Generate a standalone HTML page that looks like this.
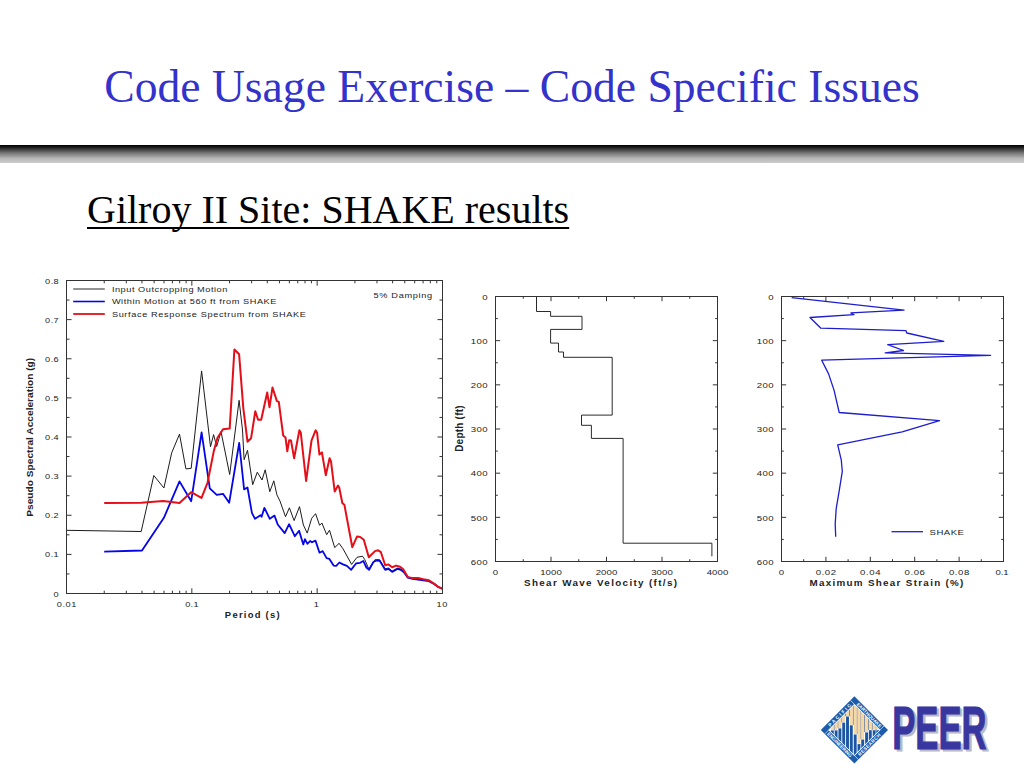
<!DOCTYPE html>
<html>
<head>
<meta charset="utf-8">
<title>Code Usage Exercise</title>
<style>
html,body{margin:0;padding:0;background:#fff;}
body{width:1024px;height:768px;position:relative;overflow:hidden;font-family:"Liberation Serif",serif;}
#title{position:absolute;left:0;top:60px;width:1024px;text-align:center;font-size:45.6px;line-height:54px;color:#3333cc;white-space:nowrap;}
#bar{position:absolute;left:0;top:145px;width:1024px;height:18px;background:linear-gradient(to bottom,#000 0%,#1a1a1a 12%,#777 45%,#b8b8b8 75%,#cccccc 100%);}
#sub{position:absolute;left:87px;top:187px;font-size:40px;line-height:46px;color:#000;white-space:nowrap;text-decoration:underline;text-decoration-thickness:2px;text-underline-offset:4px;text-decoration-skip-ink:none;}
#g{position:absolute;left:0;top:0;width:1024px;height:768px;}
#g text{font-family:"Liberation Sans",sans-serif;}
</style>
</head>
<body>
<div id="title">Code Usage Exercise – Code Specific Issues</div>
<div id="bar"></div>
<div id="sub">Gilroy II Site: SHAKE results</div>
<svg id="g" width="1024" height="768" viewBox="0 0 1024 768">
<!--CHART1-->
<g id="c1">
<path d="M104.23 593.5v-2.8M104.23 280.5v2.8M126.30 593.5v-2.8M126.30 280.5v2.8M141.96 593.5v-2.8M141.96 280.5v2.8M154.10 593.5v-2.8M154.10 280.5v2.8M164.03 593.5v-2.8M164.03 280.5v2.8M172.42 593.5v-2.8M172.42 280.5v2.8M179.69 593.5v-2.8M179.69 280.5v2.8M186.10 593.5v-2.8M186.10 280.5v2.8M191.83 593.5v-5.2M191.83 280.5v5.2M229.56 593.5v-2.8M229.56 280.5v2.8M251.63 593.5v-2.8M251.63 280.5v2.8M267.29 593.5v-2.8M267.29 280.5v2.8M279.44 593.5v-2.8M279.44 280.5v2.8M289.36 593.5v-2.8M289.36 280.5v2.8M297.75 593.5v-2.8M297.75 280.5v2.8M305.02 593.5v-2.8M305.02 280.5v2.8M311.43 593.5v-2.8M311.43 280.5v2.8M317.17 593.5v-5.2M317.17 280.5v5.2M354.90 593.5v-2.8M354.90 280.5v2.8M376.97 593.5v-2.8M376.97 280.5v2.8M392.62 593.5v-2.8M392.62 280.5v2.8M404.77 593.5v-2.8M404.77 280.5v2.8M414.69 593.5v-2.8M414.69 280.5v2.8M423.09 593.5v-2.8M423.09 280.5v2.8M430.35 593.5v-2.8M430.35 280.5v2.8M436.77 593.5v-2.8M436.77 280.5v2.8M66.5 573.94h3M442.5 573.94h-3M66.5 554.38h5M442.5 554.38h-5M66.5 534.81h3M442.5 534.81h-3M66.5 515.25h5M442.5 515.25h-5M66.5 495.69h3M442.5 495.69h-3M66.5 476.12h5M442.5 476.12h-5M66.5 456.56h3M442.5 456.56h-3M66.5 437.00h5M442.5 437.00h-5M66.5 417.44h3M442.5 417.44h-3M66.5 397.88h5M442.5 397.88h-5M66.5 378.31h3M442.5 378.31h-3M66.5 358.75h5M442.5 358.75h-5M66.5 339.19h3M442.5 339.19h-3M66.5 319.62h5M442.5 319.62h-5M66.5 300.06h3M442.5 300.06h-3" stroke="#333" stroke-width="1" fill="none"/>
<polyline points="66.2,530.3 141.2,531.5 153.8,475.5 163.9,488.0 171.7,452.8 179.5,434.1 185.9,468.9 191.2,468.3 201.6,370.9 210.5,446.8 213.6,434.6 216.7,446.5 221.0,431.6 229.7,474.5 239.1,400.3 242.5,430.0 244.1,459.7 247.5,450.3 252.7,484.7 257.3,472.2 262.0,480.0 265.2,469.8 269.8,491.7 273.8,480.8 276.9,494.8 280.0,501.1 285.5,516.7 289.4,507.8 294.1,520.6 299.5,506.6 303.4,525.0 307.2,533.1 311.7,518.3 315.6,513.7 319.6,525.3 321.9,523.0 326.7,534.7 329.5,530.2 334.7,547.6 339.1,543.3 343.0,548.8 351.6,564.4 357.0,557.3 362.5,556.2 364.8,559.7 368.8,569.0 375.0,559.7 379.7,559.7 385.2,569.0 388.3,568.0 392.2,571.0 397.7,568.0 400.8,569.0 403.9,571.5 407.8,577.3 412.5,578.4 423.4,579.7 428.9,580.8 434.4,583.9 438.3,587.0 442.2,588.6" fill="none" stroke="#1c1c1c" stroke-width="1" stroke-linejoin="round"/>
<polyline points="104.2,551.6 142.0,550.5 163.9,517.8 179.5,481.4 191.2,501.2 201.6,432.3 209.8,488.3 216.7,494.9 223.0,493.8 229.2,502.7 239.2,443.0 244.1,489.4 247.5,487.5 251.9,512.8 255.0,518.8 260.5,515.2 261.6,516.7 264.4,507.8 269.8,518.8 274.5,515.6 277.7,524.5 284.7,533.1 289.1,524.2 294.8,536.2 299.1,530.8 303.3,544.4 304.9,539.2 307.4,543.8 310.1,541.0 312.0,542.3 315.5,540.6 319.5,552.7 322.7,551.1 326.6,558.1 329.4,558.9 333.6,565.6 336.2,565.9 339.4,562.5 343.0,564.4 346.9,565.9 351.2,569.8 356.2,563.3 360.2,562.8 363.3,560.9 366.4,567.5 369.1,569.8 373.4,562.0 376.6,560.5 379.7,560.9 385.2,569.8 388.3,568.8 392.2,571.9 397.7,568.8 400.8,569.8 403.9,572.2 407.8,577.7 412.5,578.8 423.4,580.3 428.9,581.2 434.4,584.2 438.3,587.0 442.2,588.6" fill="none" stroke="#0505e8" stroke-width="1.8" stroke-linejoin="round"/>
<polyline points="104.2,503.0 141.2,502.8 163.1,500.9 179.5,503.1 191.1,492.2 201.5,497.9 207.5,482.8 213.7,451.6 217.5,437.8 223.0,429.2 229.7,428.4 234.4,349.5 239.1,354.2 243.3,408.1 247.5,441.7 251.1,438.2 255.3,411.2 258.1,419.8 261.2,419.8 267.2,392.5 269.5,407.3 272.5,387.5 276.9,401.1 278.8,401.9 283.2,435.5 285.5,437.5 287.3,451.3 289.2,440.2 291.0,440.4 294.1,458.2 299.4,430.2 300.8,432.8 306.1,481.0 311.5,440.7 315.6,430.3 317.1,432.8 319.4,454.5 321.9,452.4 325.8,475.2 329.6,458.2 331.0,461.4 334.7,491.5 338.0,485.6 339.2,487.5 342.4,503.2 344.4,504.8 352.3,547.2 357.0,536.6 360.2,537.0 363.8,539.7 368.8,557.3 375.0,551.1 378.1,550.3 380.9,552.2 385.2,565.2 388.3,564.4 392.2,567.2 396.1,565.6 400.0,566.7 403.1,569.0 407.8,576.9 412.5,578.1 418.8,578.1 423.4,579.2 428.9,580.3 434.4,583.9 438.3,587.0 442.2,588.6" fill="none" stroke="#e40f18" stroke-width="2.0" stroke-linejoin="round"/>
<rect x="66.5" y="280.5" width="376.0" height="313.0" fill="none" stroke="#333" stroke-width="1"/>
<line x1="73.2" y1="289.0" x2="104.8" y2="289.0" stroke="#6e6e6e" stroke-width="1.5"/>
<line x1="73.2" y1="301.5" x2="104.8" y2="301.5" stroke="#0505e8" stroke-width="1.6"/>
<line x1="73.2" y1="314.0" x2="104.8" y2="314.0" stroke="#e40f18" stroke-width="1.8"/>
<text transform="translate(111.9 292.0) scale(1.15 1)" font-size="8" textLength="100.43" lengthAdjust="spacing" fill="#222">Input Outcropping Motion</text>
<text transform="translate(111.9 304.4) scale(1.15 1)" font-size="8" textLength="143.04" lengthAdjust="spacing" fill="#222">Within Motion at 560 ft from SHAKE</text>
<text transform="translate(111.9 316.9) scale(1.15 1)" font-size="8" textLength="168.70" lengthAdjust="spacing" fill="#222">Surface Response Spectrum from SHAKE</text>
<text transform="translate(373.5 297.9) scale(1.15 1)" font-size="8" textLength="50.96" lengthAdjust="spacing" fill="#222">5% Damping</text>
<text transform="translate(58.7 596.6) scale(1.15 1)" font-size="8" text-anchor="end" fill="#222">0</text>
<text transform="translate(58.7 557.475) scale(1.15 1)" font-size="8" text-anchor="end" textLength="11.83" lengthAdjust="spacing" fill="#222">0.1</text>
<text transform="translate(58.7 518.35) scale(1.15 1)" font-size="8" text-anchor="end" textLength="11.83" lengthAdjust="spacing" fill="#222">0.2</text>
<text transform="translate(58.7 479.225) scale(1.15 1)" font-size="8" text-anchor="end" textLength="11.83" lengthAdjust="spacing" fill="#222">0.3</text>
<text transform="translate(58.7 440.1) scale(1.15 1)" font-size="8" text-anchor="end" textLength="11.83" lengthAdjust="spacing" fill="#222">0.4</text>
<text transform="translate(58.7 400.975) scale(1.15 1)" font-size="8" text-anchor="end" textLength="11.83" lengthAdjust="spacing" fill="#222">0.5</text>
<text transform="translate(58.7 361.85) scale(1.15 1)" font-size="8" text-anchor="end" textLength="11.83" lengthAdjust="spacing" fill="#222">0.6</text>
<text transform="translate(58.7 322.725) scale(1.15 1)" font-size="8" text-anchor="end" textLength="11.83" lengthAdjust="spacing" fill="#222">0.7</text>
<text transform="translate(58.7 283.6) scale(1.15 1)" font-size="8" text-anchor="end" textLength="11.83" lengthAdjust="spacing" fill="#222">0.8</text>
<text transform="translate(66.5 607.4) scale(1.15 1)" font-size="8" text-anchor="middle" textLength="17.04" lengthAdjust="spacing" fill="#222">0.01</text>
<text transform="translate(191.83333333333331 607.4) scale(1.15 1)" font-size="8" text-anchor="middle" textLength="11.65" lengthAdjust="spacing" fill="#222">0.1</text>
<text transform="translate(316.26666666666665 607.4) scale(1.15 1)" font-size="8" text-anchor="middle" fill="#222">1</text>
<text transform="translate(441.9 607.4) scale(1.15 1)" font-size="8" text-anchor="middle" textLength="9.39" lengthAdjust="spacing" fill="#222">10</text>
<text transform="translate(252.2 617.6) scale(1.15 1)" font-size="8.2" text-anchor="middle" textLength="47.57" lengthAdjust="spacing" font-weight="bold" fill="#222">Period (s)</text>
<text transform="translate(32.5 437.3) rotate(-90) scale(1.1 1)" font-size="9.2" text-anchor="middle" textLength="144.55" lengthAdjust="spacing" font-weight="bold" fill="#222">Pseudo Spectral Acceleration (g)</text>
</g>
<!--/CHART1-->
<!--CHART2-->
<g id="c2">
<path d="M523.25 561.5v-2.3M523.25 296.5v2.3M551.00 561.5v-4.7M551.00 296.5v4.7M578.75 561.5v-2.3M578.75 296.5v2.3M606.50 561.5v-4.7M606.50 296.5v4.7M634.25 561.5v-2.3M634.25 296.5v2.3M662.00 561.5v-4.7M662.00 296.5v4.7M689.75 561.5v-2.3M689.75 296.5v2.3M495.5 318.58h2.3M717.5 318.58h-2.3M495.5 340.67h4.7M717.5 340.67h-4.7M495.5 362.75h2.3M717.5 362.75h-2.3M495.5 384.83h4.7M717.5 384.83h-4.7M495.5 406.92h2.3M717.5 406.92h-2.3M495.5 429.00h4.7M717.5 429.00h-4.7M495.5 451.08h2.3M717.5 451.08h-2.3M495.5 473.17h4.7M717.5 473.17h-4.7M495.5 495.25h2.3M717.5 495.25h-2.3M495.5 517.33h4.7M717.5 517.33h-4.7M495.5 539.42h2.3M717.5 539.42h-2.3" stroke="#333" stroke-width="1" fill="none"/>
<polyline points="536.5,296.4 536.5,311.5 550.6,311.5 550.6,316.3 582.0,316.3 582.0,329.4 550.6,329.4 550.6,343.1 558.5,343.1 558.5,352.0 563.5,352.0 563.5,357.3 612.2,357.3 612.2,415.1 581.5,415.1 581.5,425.3 591.4,425.3 591.4,438.4 623.1,438.4 623.1,543.2 711.9,543.2 711.9,556.3" fill="none" stroke="#2a2a2a" stroke-width="1"/>
<rect x="495.5" y="296.5" width="222.0" height="265.0" fill="none" stroke="#333" stroke-width="1"/>
<text transform="translate(487.5 299.8) scale(1.2 1)" font-size="8" text-anchor="end" fill="#222">0</text>
<text transform="translate(487.5 343.9666666666667) scale(1.2 1)" font-size="8" text-anchor="end" textLength="14.00" lengthAdjust="spacing" fill="#222">100</text>
<text transform="translate(487.5 388.1333333333333) scale(1.2 1)" font-size="8" text-anchor="end" textLength="14.00" lengthAdjust="spacing" fill="#222">200</text>
<text transform="translate(487.5 432.3) scale(1.2 1)" font-size="8" text-anchor="end" textLength="14.00" lengthAdjust="spacing" fill="#222">300</text>
<text transform="translate(487.5 476.46666666666664) scale(1.2 1)" font-size="8" text-anchor="end" textLength="14.00" lengthAdjust="spacing" fill="#222">400</text>
<text transform="translate(487.5 520.6333333333333) scale(1.2 1)" font-size="8" text-anchor="end" textLength="14.00" lengthAdjust="spacing" fill="#222">500</text>
<text transform="translate(487.5 564.8) scale(1.2 1)" font-size="8" text-anchor="end" textLength="14.00" lengthAdjust="spacing" fill="#222">600</text>
<text transform="translate(495.5 574.7) scale(1.2 1)" font-size="8" text-anchor="middle" fill="#222">0</text>
<text transform="translate(551.0 574.7) scale(1.2 1)" font-size="8" text-anchor="middle" textLength="18.00" lengthAdjust="spacing" fill="#222">1000</text>
<text transform="translate(606.5 574.7) scale(1.2 1)" font-size="8" text-anchor="middle" textLength="18.00" lengthAdjust="spacing" fill="#222">2000</text>
<text transform="translate(662.0 574.7) scale(1.2 1)" font-size="8" text-anchor="middle" textLength="18.00" lengthAdjust="spacing" fill="#222">3000</text>
<text transform="translate(717.5 574.7) scale(1.2 1)" font-size="8" text-anchor="middle" textLength="18.00" lengthAdjust="spacing" fill="#222">4000</text>
<text transform="translate(600.5 585.5) scale(1.2 1)" font-size="8.2" text-anchor="middle" textLength="127.50" lengthAdjust="spacing" font-weight="bold" fill="#222">Shear Wave Velocity (ft/s)</text>
<text transform="translate(463.0 428.6) rotate(-90) scale(1.0 1)" font-size="10" text-anchor="middle" textLength="46.50" lengthAdjust="spacing" font-weight="bold" fill="#222">Depth (ft)</text>
</g>
<!--/CHART2-->
<!--CHART3-->
<g id="c3">
<path d="M803.70 561.5v-2.3M803.70 296.5v2.3M825.90 561.5v-4.7M825.90 296.5v4.7M848.10 561.5v-2.3M848.10 296.5v2.3M870.30 561.5v-4.7M870.30 296.5v4.7M892.50 561.5v-2.3M892.50 296.5v2.3M914.70 561.5v-4.7M914.70 296.5v4.7M936.90 561.5v-2.3M936.90 296.5v2.3M959.10 561.5v-4.7M959.10 296.5v4.7M981.30 561.5v-2.3M981.30 296.5v2.3M781.5 318.58h2.3M1003.5 318.58h-2.3M781.5 340.67h4.7M1003.5 340.67h-4.7M781.5 362.75h2.3M1003.5 362.75h-2.3M781.5 384.83h4.7M1003.5 384.83h-4.7M781.5 406.92h2.3M1003.5 406.92h-2.3M781.5 429.00h4.7M1003.5 429.00h-4.7M781.5 451.08h2.3M1003.5 451.08h-2.3M781.5 473.17h4.7M1003.5 473.17h-4.7M781.5 495.25h2.3M1003.5 495.25h-2.3M781.5 517.33h4.7M1003.5 517.33h-4.7M781.5 539.42h2.3M1003.5 539.42h-2.3" stroke="#333" stroke-width="1" fill="none"/>
<polyline points="791.7,297.7 904.0,310.1 850.9,312.9 854.0,314.7 810.0,317.5 820.9,328.2 906.0,330.7 906.8,333.0 943.8,341.4 887.7,344.7 903.5,350.5 885.2,352.8 990.6,355.3 821.7,360.2 828.6,373.9 834.1,390.4 839.2,412.5 939.5,420.6 902.2,431.8 837.7,444.8 841.3,460.2 842.3,471.3 839.2,490.8 836.2,508.6 835.2,523.8 835.7,536.7" fill="none" stroke="#1d1dcf" stroke-width="1.3" stroke-linejoin="round"/>
<line x1="891.5" y1="531.7" x2="923" y2="531.7" stroke="#1d1dcf" stroke-width="1.3"/>
<text transform="translate(929.6 534.5) scale(1.2 1)" font-size="8" textLength="28.58" lengthAdjust="spacing" fill="#222">SHAKE</text>
<rect x="781.5" y="296.5" width="222.0" height="265.0" fill="none" stroke="#333" stroke-width="1"/>
<text transform="translate(773.5 299.8) scale(1.2 1)" font-size="8" text-anchor="end" fill="#222">0</text>
<text transform="translate(773.5 343.9666666666667) scale(1.2 1)" font-size="8" text-anchor="end" textLength="14.00" lengthAdjust="spacing" fill="#222">100</text>
<text transform="translate(773.5 388.1333333333333) scale(1.2 1)" font-size="8" text-anchor="end" textLength="14.00" lengthAdjust="spacing" fill="#222">200</text>
<text transform="translate(773.5 432.3) scale(1.2 1)" font-size="8" text-anchor="end" textLength="14.00" lengthAdjust="spacing" fill="#222">300</text>
<text transform="translate(773.5 476.46666666666664) scale(1.2 1)" font-size="8" text-anchor="end" textLength="14.00" lengthAdjust="spacing" fill="#222">400</text>
<text transform="translate(773.5 520.6333333333333) scale(1.2 1)" font-size="8" text-anchor="end" textLength="14.00" lengthAdjust="spacing" fill="#222">500</text>
<text transform="translate(773.5 564.8) scale(1.2 1)" font-size="8" text-anchor="end" textLength="14.00" lengthAdjust="spacing" fill="#222">600</text>
<text transform="translate(781.5 574.7) scale(1.2 1)" font-size="8" text-anchor="middle" fill="#222">0</text>
<text transform="translate(825.9 574.7) scale(1.2 1)" font-size="8" text-anchor="middle" textLength="17.00" lengthAdjust="spacing" fill="#222">0.02</text>
<text transform="translate(870.3 574.7) scale(1.2 1)" font-size="8" text-anchor="middle" textLength="17.00" lengthAdjust="spacing" fill="#222">0.04</text>
<text transform="translate(914.7 574.7) scale(1.2 1)" font-size="8" text-anchor="middle" textLength="17.00" lengthAdjust="spacing" fill="#222">0.06</text>
<text transform="translate(959.1 574.7) scale(1.2 1)" font-size="8" text-anchor="middle" textLength="17.00" lengthAdjust="spacing" fill="#222">0.08</text>
<text transform="translate(1002.1 574.7) scale(1.2 1)" font-size="8" text-anchor="middle" textLength="10.83" lengthAdjust="spacing" fill="#222">0.1</text>
<text transform="translate(886.4 585.5) scale(1.2 1)" font-size="8.2" text-anchor="middle" textLength="128.33" lengthAdjust="spacing" font-weight="bold" fill="#222">Maximum Shear Strain (%)</text>
</g>
<!--/CHART3-->
<!--LOGO-->
<g id="logo">
<defs><clipPath id="dc"><path d="M829.2 729.9 L854.4 704.7 L879.6 729.9 L854.4 755.1Z"/></clipPath></defs>
<path d="M820.8 729.9 L854.4 696.3 L888.0 729.9 L854.4 763.5Z" fill="#1d5cab"/>
<path d="M828.4 729.9 L854.4 703.9 L880.4 729.9 L854.4 755.9Z" fill="#fff"/>
<g clip-path="url(#dc)">
<rect x="820" y="690" width="70" height="80" fill="#fff"/>
<rect x="833.60" y="690" width="1.2" height="40.10" fill="#6f7f9c"/>
<rect x="837.40" y="690" width="1.2" height="38.10" fill="#6f7f9c"/>
<rect x="841.20" y="690" width="1.2" height="32.30" fill="#6f7f9c"/>
<rect x="845.00" y="690" width="1.2" height="26.20" fill="#6f7f9c"/>
<rect x="848.80" y="690" width="1.2" height="26.20" fill="#6f7f9c"/>
<rect x="852.65" y="690" width="1.2" height="35.00" fill="#6f7f9c"/>
<rect x="856.50" y="690" width="1.2" height="44.20" fill="#6f7f9c"/>
<rect x="860.25" y="690" width="1.2" height="49.20" fill="#6f7f9c"/>
<rect x="864.05" y="690" width="1.2" height="42.10" fill="#6f7f9c"/>
<rect x="867.85" y="690" width="1.2" height="39.90" fill="#6f7f9c"/>
<rect x="871.65" y="690" width="1.2" height="39.90" fill="#6f7f9c"/>
<rect x="875.35" y="690" width="1.2" height="39.90" fill="#6f7f9c"/>
<rect x="830.85" y="690" width="2.9" height="39.80" fill="#f6d8a4"/>
<rect x="830.85" y="730.40" width="2.9" height="39.90" fill="#1b55a3"/>
<rect x="834.65" y="690" width="2.9" height="39.80" fill="#f6d8a4"/>
<rect x="834.65" y="730.40" width="2.9" height="39.90" fill="#1b55a3"/>
<rect x="838.45" y="690" width="2.9" height="37.80" fill="#f6d8a4"/>
<rect x="838.45" y="728.40" width="2.9" height="41.90" fill="#1b55a3"/>
<rect x="842.25" y="690" width="2.9" height="32.00" fill="#f6d8a4"/>
<rect x="842.25" y="722.60" width="2.9" height="47.70" fill="#1b55a3"/>
<rect x="846.05" y="690" width="2.9" height="25.90" fill="#f6d8a4"/>
<rect x="846.05" y="716.50" width="2.9" height="53.80" fill="#1b55a3"/>
<rect x="849.85" y="690" width="2.9" height="34.70" fill="#f6d8a4"/>
<rect x="849.85" y="725.30" width="2.9" height="45.00" fill="#1b55a3"/>
<rect x="853.75" y="690" width="2.9" height="43.90" fill="#f6d8a4"/>
<rect x="853.75" y="734.50" width="2.9" height="35.80" fill="#1b55a3"/>
<rect x="857.55" y="690" width="2.9" height="53.50" fill="#f6d8a4"/>
<rect x="857.55" y="744.10" width="2.9" height="26.20" fill="#1b55a3"/>
<rect x="861.25" y="690" width="2.9" height="48.90" fill="#f6d8a4"/>
<rect x="861.25" y="739.50" width="2.9" height="30.80" fill="#1b55a3"/>
<rect x="865.15" y="690" width="2.9" height="41.80" fill="#f6d8a4"/>
<rect x="865.15" y="732.40" width="2.9" height="37.90" fill="#1b55a3"/>
<rect x="868.85" y="690" width="2.9" height="39.60" fill="#f6d8a4"/>
<rect x="868.85" y="730.20" width="2.9" height="40.10" fill="#1b55a3"/>
<rect x="872.75" y="690" width="2.9" height="39.60" fill="#f6d8a4"/>
<rect x="872.75" y="730.20" width="2.9" height="40.10" fill="#1b55a3"/>
<rect x="876.25" y="690" width="2.9" height="39.60" fill="#f6d8a4"/>
<rect x="876.25" y="730.20" width="2.9" height="40.10" fill="#1b55a3"/>
</g>
<path d="M824.80 733.90L854.40 704.30M850.40 700.30L880.00 729.90M884.00 725.90L854.40 755.50M858.40 759.50L828.80 729.90" stroke="#e9f0fa" stroke-width="0.7" fill="none"/>
<text transform="translate(839.60 715.10) rotate(-45)" font-size="4.7" font-weight="bold" text-anchor="middle" textLength="30" lengthAdjust="spacing" fill="#fff" y="1.7">PACIFIC</text>
<text transform="translate(869.20 715.10) rotate(45)" font-size="4.7" font-weight="bold" text-anchor="middle" textLength="33" lengthAdjust="spacing" fill="#fff" y="1.7">EARTHQUAKE</text>
<text transform="translate(839.60 744.70) rotate(45)" font-size="4.7" font-weight="bold" text-anchor="middle" textLength="33" lengthAdjust="spacing" fill="#fff" y="1.7">ENGINEERING</text>
<text transform="translate(869.20 744.70) rotate(-45)" font-size="4.7" font-weight="bold" text-anchor="middle" textLength="29.5" lengthAdjust="spacing" fill="#fff" y="1.7">RESEARCH</text>
<text x="892.3" y="749" transform="translate(2.4 2.3)" font-size="61.5" font-weight="bold" textLength="94.2" lengthAdjust="spacingAndGlyphs" fill="#b9b9c9" stroke="#b9b9c9" stroke-width="1.2">PEER</text>
<text x="892.3" y="749" font-size="61.5" font-weight="bold" textLength="94.2" lengthAdjust="spacingAndGlyphs" fill="#38369f" stroke="#38369f" stroke-width="1.2">PEER</text>
</g>
<!--/LOGO-->
</svg>
</body>
</html>
